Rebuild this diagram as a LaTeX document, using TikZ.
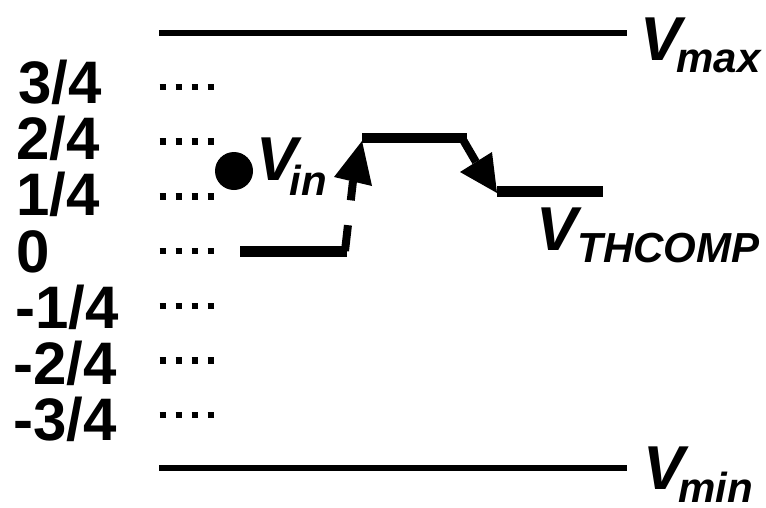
\documentclass[tikz,border=0pt]{standalone}
\usepackage{fontspec}
\setmainfont{Liberation Sans}
\usepackage{graphicx}
\newcommand{\subf}{\fontsize{42}{42}\selectfont}
\tikzset{
  lvl/.style={font=\fontsize{60}{60}\selectfont\bfseries, inner sep=0pt, anchor=base west},
  vl/.style={font=\fontsize{62}{62}\selectfont\bfseries\itshape, inner sep=0pt, anchor=base west},
  rail/.style={line width=6pt},
  dotrow/.style={line width=6.5pt, dash pattern=on 6.5pt off 9.5pt},
  stepline/.style={line width=11pt},
}
\begin{document}
\begin{tikzpicture}[x=1pt,y=1pt]
\useasboundingbox (0,0) rectangle (766,-507);
% rails
\coordinate (maxL) at (159,-33); \coordinate (maxR) at (627,-33);
\coordinate (minL) at (159,-468); \coordinate (minR) at (627,-468);
\draw[rail] (maxL) -- (maxR);
\draw[rail] (minL) -- (minR);
\node[vl] (vmax) at (640,-60) {V\kern-5pt\raisebox{-12pt}[0pt][0pt]{\subf max}};
\node[vl] (vmin) at (643,-489) {V\kern-6pt\raisebox{-13pt}[0pt][0pt]{\subf min}};
% level labels
\node[lvl] (l1) at (18,-103) {3/4};
\node[lvl] (l2) at (16,-159) {2/4};
\node[lvl] (l3) at (16,-215) {1/4};
\node[lvl] (l4) at (16,-272) {0};
\node[lvl] (l5) at (15,-328) {-1/4};
\node[lvl] (l6) at (13,-384) {-2/4};
\node[lvl] (l7) at (13,-440) {-3/4};
% dot rows
\foreach \yy in {87,141.7,196.4,251.1,305.8,360.5,415.2}{
  \draw[dotrow] (159.5,-\yy) -- (214,-\yy);
}
% Vin
\fill (234,-171) circle (19);
\node[vl] (vin) at (256,-180) {V\kern-8pt\raisebox{-15pt}[0pt][0pt]{\subf in}};
% lower step
\coordinate (s0) at (240,-251); \coordinate (s1) at (347,-251);
\draw[stepline] (s0) -- (s1);
% dashed up arrow
\coordinate (upb) at (345,-251); \coordinate (uph) at (353,-181);
\draw[line width=8pt, dash pattern=on 26pt off 25pt on 40pt off 0pt] (upb) -- (uph);
\fill (362,-141) -- (334,-177) -- (372,-186) -- cycle;
% top plateau
\coordinate (t0) at (362,-138); \coordinate (t1) at (467,-138);
\draw[line width=10pt] (t0) -- (t1);
% down arrow
\coordinate (dn0) at (462,-138); \coordinate (dnh) at (476,-162);
\draw[line width=8pt] (dn0) -- (dnh);
\fill (497,-193) -- (460,-172) -- (492,-152) -- cycle;
% lower right plateau
\coordinate (r0) at (497,-191); \coordinate (r1) at (603,-191);
\draw[stepline] (r0) -- (r1);
\node[vl] (vth) at (536,-250) {V\kern0pt\raisebox{-12pt}[0pt][0pt]{\subf THCOMP}};
\end{tikzpicture}
\end{document}
